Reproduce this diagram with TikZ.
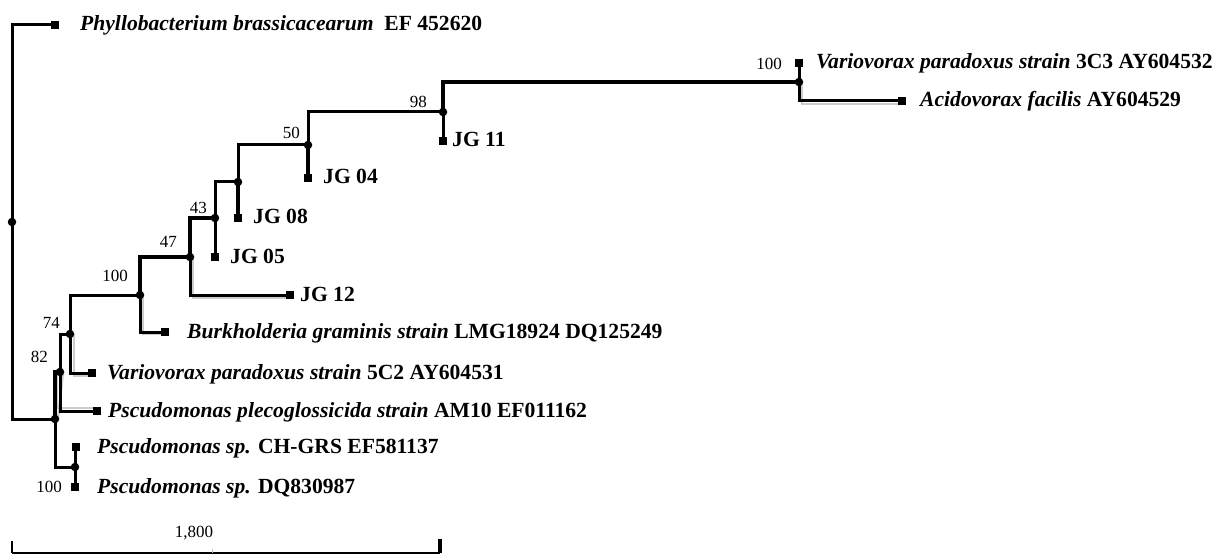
\documentclass[tikz,border=0pt]{standalone}
\usepackage{fontspec}
\setmainfont{Liberation Serif}
\begin{document}
\begin{tikzpicture}[x=1pt,y=-1pt,
  br/.style={line width=3pt, line cap=rect},
  thk/.style={line width=4pt, line cap=rect},
  shd/.style={line width=2.4pt, gray!40},
  inode/.style={circle, fill=black, inner sep=0pt, minimum size=8.5pt},
  leafdot/.style={rectangle, fill=black, inner sep=0pt, minimum size=7.5pt},
  lab/.style={anchor=base west, inner sep=0pt, font=\fontsize{21.6}{24}\selectfont\bfseries},
  boot/.style={anchor=base east, inner sep=0pt, font=\fontsize{17}{19}\selectfont},
]
\useasboundingbox (0,0) rectangle (1229,556);

% tree coordinates
\coordinate (root) at (12,222);
\coordinate (Phy)  at (55,25);
\coordinate (nA)   at (55,419);
\coordinate (nB)   at (75,467);
\coordinate (CH)   at (76,447);
\coordinate (DQ)   at (75,487);
\coordinate (n82)  at (60,372);
\coordinate (Pl)   at (97,411);
\coordinate (n74)  at (70,334);
\coordinate (V5)   at (92,373);
\coordinate (n100) at (140,295);
\coordinate (Bu)   at (165,332);
\coordinate (n47)  at (190,257);
\coordinate (JG12) at (290,295);
\coordinate (n43)  at (215,218);
\coordinate (JG05) at (215,257);
\coordinate (nC)   at (238,182);
\coordinate (JG08) at (238,218);
\coordinate (n50)  at (308,145);
\coordinate (JG04) at (308,178);
\coordinate (n98)  at (443,112);
\coordinate (JG11) at (443,141);
\coordinate (nD)   at (799,82);
\coordinate (V3)   at (799,63);
\coordinate (Ac)   at (902,101);

% grey shadow strokes
\draw[shd] ([xshift=3pt]nD) |- ([yshift=-3pt]Ac);
\draw[shd] ([xshift=-3pt]n82) |- ([yshift=3pt]Pl);
\draw[shd] ([xshift=4pt]n74) |- ([yshift=-3pt]V5);
\draw[shd] ([xshift=3pt]n47) |- ([yshift=-3pt]JG12);
\draw[shd] ([xshift=3pt]n100) |- ([yshift=-2pt]Bu);
\draw[shd] ([xshift=3pt]nA) -- ([xshift=3pt]n82);

% branches
\draw[br] (root) |- (Phy);
\draw[br] (root) |- (nA);
\draw[thk] (nA) |- (n82);
\draw[br] (nA) |- (nB);
\draw[br] (nB) |- (CH);
\draw[br] (nB) |- (DQ);
\draw[br] (n82) |- (n74);
\draw[br] (n82) |- (Pl);
\draw[br] (n74) |- (n100);
\draw[br] (n74) |- (V5);
\draw[thk] (n100) |- (n47);
\draw[br] (n100) |- (Bu);
\draw[thk] (n47) |- (n43);
\draw[br] (n47) |- (JG12);
\draw[br] (n43) |- (nC);
\draw[br] (n43) |- (JG05);
\draw[br] (nC) |- (n50);
\draw[thk] (nC) |- (JG08);
\draw[br] (n50) |- (n98);
\draw[thk] (n50) |- (JG04);
\draw[thk] (n98) |- (nD);
\draw[br] (n98) |- (JG11);
\draw[br] (nD) |- (V3);
\draw[br] (nD) |- (Ac);

% dots
\foreach \c in {root,nA,nB,n82,n74,n100,n47,n43,nC,n50,n98,nD}
  \node[inode] (d\c) at (\c) {};
\foreach \c in {Phy,CH,DQ,Pl,V5,Bu,JG12,JG05,JG08,JG04,JG11,V3,Ac}
  \node[leafdot] (d\c) at (\c) {};

% taxon labels
\node[lab] (tPhy)  at (80,31)   {\itshape Phyllobacterium brassicacearum\upshape~~EF 452620};
\node[lab] (tV3)   at (816,69)  {\itshape Variovorax paradoxus strain \upshape 3C3 AY604532};
\node[lab] (tAc)   at (920,107) {\itshape Acidovorax facilis \upshape AY604529};
\node[lab] (tJG11) at (452,147) {JG 11};
\node[lab] (tJG04) at (323,184) {JG 04};
\node[lab] (tJG08) at (253,224) {JG 08};
\node[lab] (tJG05) at (230,263) {JG 05};
\node[lab] (tJG12) at (300,301) {JG 12};
\node[lab] (tBu)   at (187,338) {\itshape Burkholderia graminis strain \upshape LMG18924 DQ125249};
\node[lab] (tV5)   at (107,379) {\itshape Variovorax paradoxus strain \upshape 5C2 AY604531};
\node[lab] (tPl)   at (108,417) {\itshape Pscudomonas plecoglossicida strain \upshape AM10 EF011162};
\node[lab] (tCH)   at (97,453)  {\itshape Pscudomonas sp. \upshape CH-GRS EF581137};
\node[lab] (tDQ)   at (97,493)  {\itshape Pscudomonas sp. \upshape DQ830987};

% bootstrap values
\node[boot] (b1) at (782,69.5)  {100};
\node[boot] (b2) at (427,107.5) {98};
\node[boot] (b3) at (300,138.5) {50};
\node[boot] (b4) at (207,213.5) {43};
\node[boot] (b5) at (177,247.5) {47};
\node[boot] (b6) at (128,281.5) {100};
\node[boot] (b7) at (60,328.5)  {74};
\node[boot] (b8) at (48,362.5)  {82};
\node[boot] (b9) at (62,492.5)  {100};

% scale bar
\coordinate (sL) at (12,553);
\coordinate (sR) at (440,553);
\coordinate (sM) at (212,553);
\draw[line width=2.6pt] (sL) -- (sR);
\draw[line width=2pt] (sL) -- ++(0,-12);
\draw[line width=3.5pt] (sR) -- ++(0,-14);
\draw[line width=0.8pt, gray!50] (sM) -- ++(0,-4);
\node[anchor=base, inner sep=0pt, font=\fontsize{17}{19}\selectfont] (scl) at (194,537.5) {1,800};
\end{tikzpicture}
\end{document}
